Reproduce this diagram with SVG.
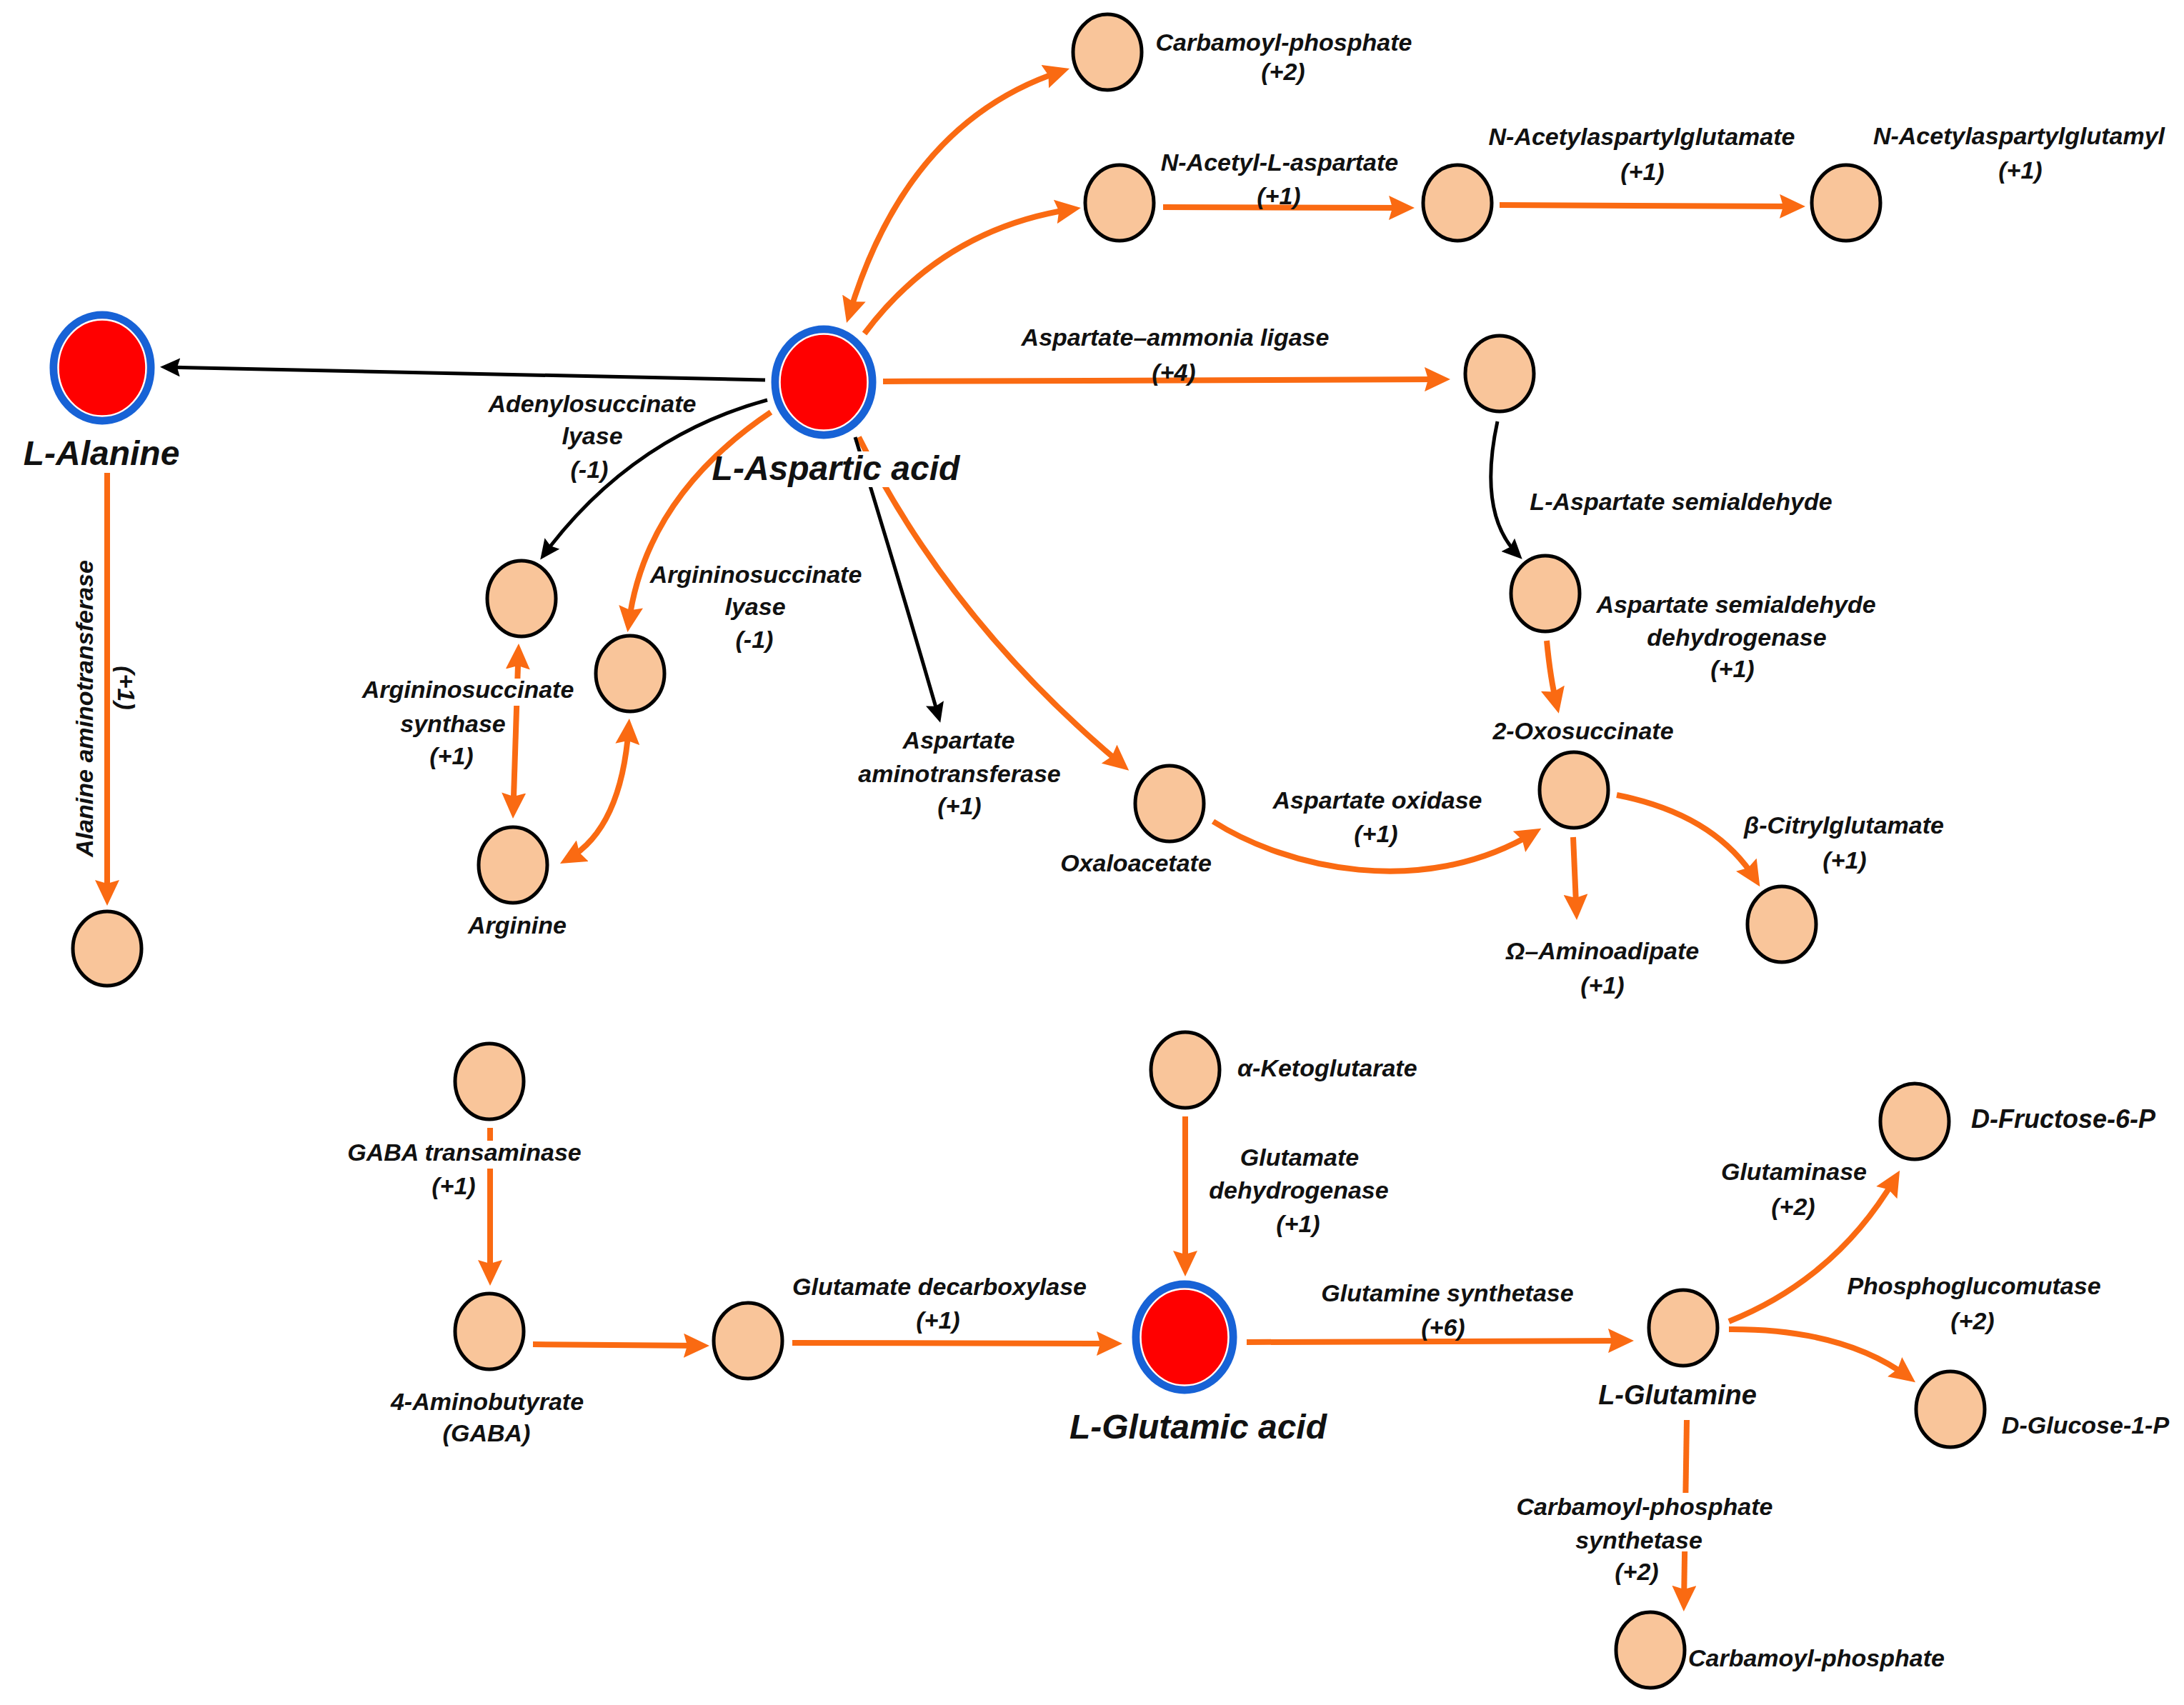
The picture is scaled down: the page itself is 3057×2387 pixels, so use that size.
<svg xmlns="http://www.w3.org/2000/svg" width="3057" height="2387" viewBox="0 0 3057 2387">
<style>
  .o { fill: none; stroke: #FA6A12; stroke-width: 8; }
  .k { fill: none; stroke: #000; stroke-width: 5; }
  .m { fill: #F9C59A; stroke: #000; stroke-width: 5; }
  .r { fill: #FF0000; stroke: #1762D6; stroke-width: 11; }
  .rw { fill: none; stroke: #fff; stroke-width: 2.5; }
  text { font-family: "Liberation Sans", Arial, sans-serif; font-weight: bold; font-style: italic; font-size: 34px; fill: #111; text-anchor: middle; }
  .big { font-size: 48px; }
  .mid { font-size: 38px; }
  .st { text-anchor: start; }
</style>
<defs>
  <marker id="ao" markerUnits="userSpaceOnUse" markerWidth="36" markerHeight="34" viewBox="0 0 36 34" refX="24" refY="17" orient="auto-start-reverse">
    <path d="M0,0 L36,17 L0,34 L5,17 z" fill="#FA6A12"/>
  </marker>
  <marker id="ak" markerUnits="userSpaceOnUse" markerWidth="28" markerHeight="26" viewBox="0 0 28 26" refX="20" refY="13" orient="auto-start-reverse">
    <path d="M0,0 L28,13 L0,26 L4,13 z" fill="#000"/>
  </marker>
  <mask id="gaps" maskUnits="userSpaceOnUse" x="0" y="0" width="3057" height="2387">
    <rect x="0" y="0" width="3057" height="2387" fill="#fff"/>
    <rect x="1180" y="632" width="90" height="50" fill="#000"/>
    <rect x="700" y="950" width="50" height="38" fill="#000"/>
    <rect x="670" y="1597" width="32" height="39" fill="#000"/>
    <rect x="2340" y="2090" width="40" height="82" fill="#000"/>
  </mask>
</defs>
<rect width="3057" height="2387" fill="#fff"/>

<g id="connectors" mask="url(#gaps)">
  <path class="k" d="M1071 532 L232 514" marker-end="url(#ak)"/>
  <path class="k" d="M1074 560 C1000 580 870 630 761 777" marker-end="url(#ak)"/>
  <path class="o" d="M1079 577 C1000 630 900 720 880 873" marker-end="url(#ao)"/>
  <path class="o" d="M1188.5 440.5 Q1270 170 1485.6 99.7" marker-start="url(#ao)" marker-end="url(#ao)"/>
  <path class="o" d="M1210 467 Q1320 320 1501 292.8" marker-end="url(#ao)"/>
  <path class="o" d="M1628 290 L1968 291" marker-end="url(#ao)"/>
  <path class="o" d="M2099 287 L2515 289" marker-end="url(#ao)"/>
  <path class="o" d="M1236 534 L2018 531" marker-end="url(#ao)"/>
  <path class="k" d="M2096 590 Q2068 720 2125 777" marker-end="url(#ak)"/>
  <path class="o" d="M2165 897 Q2170 950 2179 987" marker-end="url(#ao)"/>
  <path class="o" d="M1202 612 Q1330 870 1571 1071" marker-end="url(#ao)"/>
  <path class="k" d="M1197 612 Q1255 800 1314 1004" marker-end="url(#ak)"/>
  <path class="o" d="M1698 1150 C1800 1215 1990 1260 2147 1166" marker-end="url(#ao)"/>
  <path class="o" d="M2202 1172 L2206.5 1276" marker-end="url(#ao)"/>
  <path class="o" d="M2263 1113 Q2400 1140 2457 1231" marker-end="url(#ao)"/>
  <path class="o" d="M725.6 913 L718.4 1134" marker-start="url(#ao)" marker-end="url(#ao)"/>
  <path class="o" d="M880 1018 Q870 1160 794.4 1203" marker-start="url(#ao)" marker-end="url(#ao)"/>
  <path class="o" d="M150 662 L150 1256" marker-end="url(#ao)"/>
  <path class="o" d="M686 1579 L686 1788" marker-end="url(#ao)"/>
  <path class="o" d="M746 1882 L981 1884" marker-end="url(#ao)"/>
  <path class="o" d="M1109 1880 L1559 1881" marker-end="url(#ao)"/>
  <path class="o" d="M1659 1563 L1659 1775" marker-end="url(#ao)"/>
  <path class="o" d="M1745 1879 L2275 1877" marker-end="url(#ao)"/>
  <path class="o" d="M2420 1850 Q2570 1790 2653 1649" marker-end="url(#ao)"/>
  <path class="o" d="M2420 1861 Q2580 1860 2671.4 1928" marker-end="url(#ao)"/>
  <path class="o" d="M2361 1988 L2357 2244" marker-end="url(#ao)"/>
</g>

<g id="n-alanine"><ellipse class="r" cx="143" cy="515" rx="68" ry="74"/><ellipse class="rw" cx="143" cy="515" rx="61.5" ry="67.5"/><text class="big" x="142" y="651">L-Alanine</text></g>
<g id="n-aspartic"><ellipse class="r" cx="1153" cy="535" rx="68" ry="74"/><ellipse class="rw" cx="1153" cy="535" rx="61.5" ry="67.5"/><text class="big" x="1170" y="672">L-Aspartic acid</text></g>
<g id="n-glutamic"><ellipse class="r" cx="1658" cy="1872" rx="68" ry="74"/><ellipse class="rw" cx="1658" cy="1872" rx="61.5" ry="67.5"/><text class="big" x="1677" y="2014">L-Glutamic acid</text></g>

<g id="n-carbamoyl-top"><ellipse class="m" cx="1550" cy="73" rx="48" ry="53"/><text x="1797" y="71">Carbamoyl-phosphate</text><text x="1796" y="112">(+2)</text></g>
<g id="n-naa"><ellipse class="m" cx="1567" cy="284" rx="48" ry="53"/><text x="1791" y="239">N-Acetyl-L-aspartate</text><text x="1790" y="286">(+1)</text></g>
<g id="n-naag"><ellipse class="m" cx="2040" cy="284" rx="48" ry="53"/><text x="2298" y="203">N-Acetylaspartylglutamate</text><text x="2299" y="252">(+1)</text></g>
<g id="n-naaglu"><ellipse class="m" cx="2584" cy="284" rx="48" ry="53"/><text x="2826" y="202">N-Acetylaspartylglutamyl</text><text x="2828" y="250">(+1)</text></g>
<g id="n-ligase"><ellipse class="m" cx="2099" cy="523" rx="48" ry="53"/><text x="1645" y="484">Aspartate–ammonia ligase</text><text x="1643" y="533">(+4)</text></g>
<g id="n-asa"><ellipse class="m" cx="2163" cy="831" rx="48" ry="53"/><text x="2353" y="714">L-Aspartate semialdehyde</text><text x="2430" y="858">Aspartate semialdehyde</text><text x="2431" y="904">dehydrogenase</text><text x="2425" y="948">(+1)</text></g>
<g id="n-oxosuccinate"><ellipse class="m" cx="2203" cy="1106" rx="48" ry="53"/><text x="2216" y="1035">2-Oxosuccinate</text><text x="2243" y="1343">Ω–Aminoadipate</text><text x="2243" y="1391">(+1)</text></g>
<g id="n-oxaloacetate"><ellipse class="m" cx="1637" cy="1125" rx="48" ry="53"/><text x="1590" y="1220">Oxaloacetate</text><text x="1928" y="1132">Aspartate oxidase</text><text x="1926" y="1179">(+1)</text></g>
<g id="n-citryl"><ellipse class="m" cx="2494" cy="1294" rx="48" ry="53"/><text x="2581" y="1167">β-Citrylglutamate</text><text x="2582" y="1216">(+1)</text></g>
<g id="n-adenylo"><ellipse class="m" cx="730" cy="838" rx="48" ry="53"/><text x="829" y="577">Adenylosuccinate</text><text x="829" y="622">lyase</text><text x="825" y="669">(-1)</text></g>
<g id="n-argsucc"><ellipse class="m" cx="882" cy="943" rx="48" ry="53"/><text x="1058" y="816">Argininosuccinate</text><text x="1057" y="861">lyase</text><text x="1056" y="907">(-1)</text></g>
<g id="n-arginine"><ellipse class="m" cx="718" cy="1211" rx="48" ry="53"/><text x="724" y="1307">Arginine</text><text x="655" y="977">Argininosuccinate</text><text x="634" y="1025">synthase</text><text x="632" y="1070">(+1)</text></g>
<g id="n-aat"><text x="1342" y="1048">Aspartate</text><text x="1343" y="1095">aminotransferase</text><text x="1343" y="1140">(+1)</text></g>
<g id="n-pyruvate"><ellipse class="m" cx="150" cy="1328" rx="48" ry="52"/><text transform="translate(130 992) rotate(-90)" x="0" y="0">Alanine aminotransferase</text><text transform="translate(165 963) rotate(90)" x="0" y="0">(+1)</text></g>

<g id="n-gaba-src"><ellipse class="m" cx="685" cy="1514" rx="48" ry="53"/><text x="650" y="1625">GABA transaminase</text><text x="635" y="1672">(+1)</text></g>
<g id="n-gaba"><ellipse class="m" cx="685" cy="1864" rx="48" ry="53"/><text x="682" y="1974">4-Aminobutyrate</text><text x="681" y="2018">(GABA)</text></g>
<g id="n-mid"><ellipse class="m" cx="1047" cy="1877" rx="48" ry="53"/><text x="1315" y="1813">Glutamate decarboxylase</text><text x="1313" y="1860">(+1)</text></g>
<g id="n-akg"><ellipse class="m" cx="1659" cy="1498" rx="48" ry="53"/><text class="st" x="1732" y="1507">α-Ketoglutarate</text><text x="1819" y="1632">Glutamate</text><text x="1818" y="1678">dehydrogenase</text><text x="1817" y="1725">(+1)</text></g>
<g id="n-glutamine"><ellipse class="m" cx="2356" cy="1859" rx="48" ry="53"/><text class="mid" x="2348" y="1966">L-Glutamine</text><text x="2026" y="1822">Glutamine synthetase</text><text x="2020" y="1870">(+6)</text></g>
<g id="n-fructose"><ellipse class="m" cx="2680" cy="1570" rx="48" ry="53"/><text x="2888" y="1579" style="font-size:36px">D-Fructose-6-P</text><text x="2511" y="1652">Glutaminase</text><text x="2510" y="1701">(+2)</text></g>
<g id="n-glucose"><ellipse class="m" cx="2730" cy="1973" rx="48" ry="53"/><text x="2919" y="2007">D-Glucose-1-P</text><text x="2763" y="1812">Phosphoglucomutase</text><text x="2761" y="1861">(+2)</text></g>
<g id="n-carbamoyl-bot"><ellipse class="m" cx="2310" cy="2310" rx="48" ry="53"/><text class="st" x="2363" y="2333">Carbamoyl-phosphate</text><text x="2302" y="2121">Carbamoyl-phosphate</text><text x="2294" y="2168">synthetase</text><text x="2291" y="2212">(+2)</text></g>
</svg>
